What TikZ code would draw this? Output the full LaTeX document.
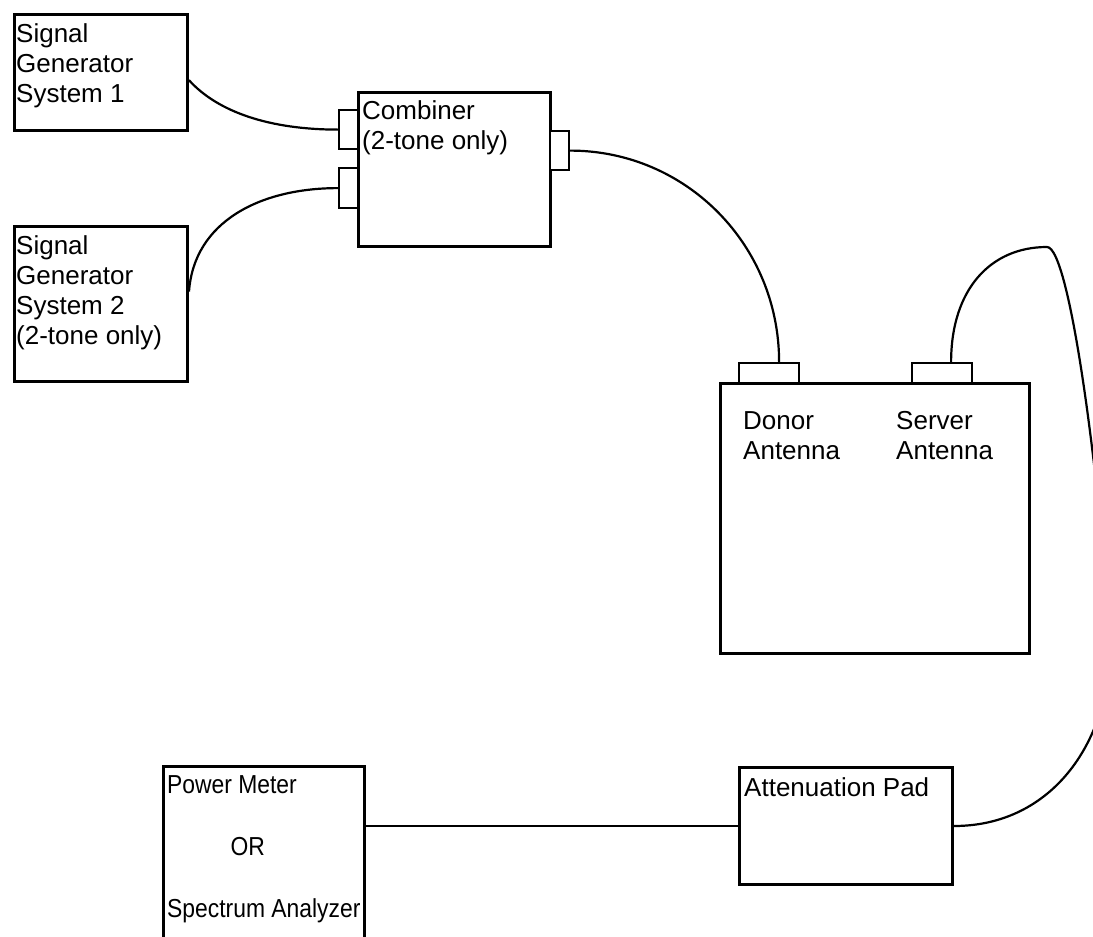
\documentclass[tikz,border=0pt]{standalone}
\usepackage{fontspec}
\setmainfont{Liberation Sans}
\newcommand{\lblfont}{\fontsize{26}{30}\selectfont}
\tikzset{
  unit/.style={draw,line width=3pt,rectangle,inner sep=0pt,anchor=north west},
  port/.style={draw,line width=2.2pt,fill=white,rectangle,inner sep=0pt,anchor=north west},
  cable/.style={line width=2.2pt},
  lbl/.style={font=\lblfont,align=left,anchor=base west,inner sep=0pt}
}
\begin{document}
\begin{tikzpicture}[x=1pt,y=-1pt]
        \useasboundingbox (0,0) rectangle (1093,937);
        \clip (0,0) rectangle (1093,937);
        %% Signal generators
        \node[unit,minimum width=173pt,minimum height=116pt] (sg1) at (13,13) {};
        \node[unit,minimum width=173pt,minimum height=155pt] (sg2) at (13,225) {};
        \node[lbl] (sg1txt) at ([xshift=3pt,yshift=-89pt]sg1.north west) {Signal\\Generator\\System 1};
        \node[lbl] (sg2txt) at ([xshift=3pt,yshift=-119pt]sg2.north west) {Signal\\Generator\\System 2\\(2-tone only)};
        %% Combiner
        \node[unit,minimum width=192pt,minimum height=154pt] (comb) at (357,91) {};
        \node[port,minimum width=19pt,minimum height=39pt] (cin1) at (338,109) {};
        \node[port,minimum width=19pt,minimum height=40pt] (cin2) at (338,167) {};
        \node[port,minimum width=19pt,minimum height=39pt] (cout) at (549,130) {};
        \node[lbl] (combtxt) at ([xshift=5pt,yshift=-58pt]comb.north west) {Combiner\\(2-tone only)};
        %% Repeater
        \node[unit,minimum width=309pt,minimum height=270pt] (rep) at (719,382) {};
        \node[port,minimum width=60pt,minimum height=20pt] (dport) at (738,362) {};
        \node[port,minimum width=60pt,minimum height=20pt] (sport) at (911,362) {};
        \node[lbl] (donortxt) at ([xshift=24pt,yshift=-77pt]rep.north west) {Donor\\Antenna};
        \node[lbl] (servertxt) at ([xshift=177pt,yshift=-77pt]rep.north west) {Server\\Antenna};
        %% Pad and meter
        \node[unit,minimum width=213pt,minimum height=117pt] (pad) at (738,766) {};
        \node[unit,minimum width=201pt,minimum height=220pt] (pm) at (162,765) {};
        \node[lbl] (padtxt) at ([xshift=6pt,yshift=-30pt]pad.north west) {Attenuation Pad};
        \node[lbl,xscale=0.88,transform shape] (pmtxt) at ([xshift=5pt,yshift=-152pt]pm.north west) {Power Meter\\[32pt]\hspace*{72pt}OR\\[32pt]Spectrum Analyzer};
        %% Cables
        \coordinate (loop) at (1047,247);
        \coordinate (bend) at (1110,640);
        \draw[cable] (sg1.-5) .. controls +(29,32) and +(-68,0) .. (cin1.west);
        \draw[cable] (sg2.8) .. controls +(5,-70) and +(-78,0) .. (cin2.west);
        \draw[cable] (cout.east) .. controls +(116,0) and +(0,-117) .. ([xshift=10pt]dport.north);
        \draw[cable] ([xshift=9pt]sport.north) .. controls +(0,-72) and +(-57,0) .. (loop)
            .. controls +(23,0) and +(-10,-160) .. (bend)
            .. controls +(2,100) and +(99,0) .. (pad.east);
        \draw[cable,line width=2.8pt] (pm.east |- pad.west) -- (pad.west);
    \end{tikzpicture}
\end{document}
